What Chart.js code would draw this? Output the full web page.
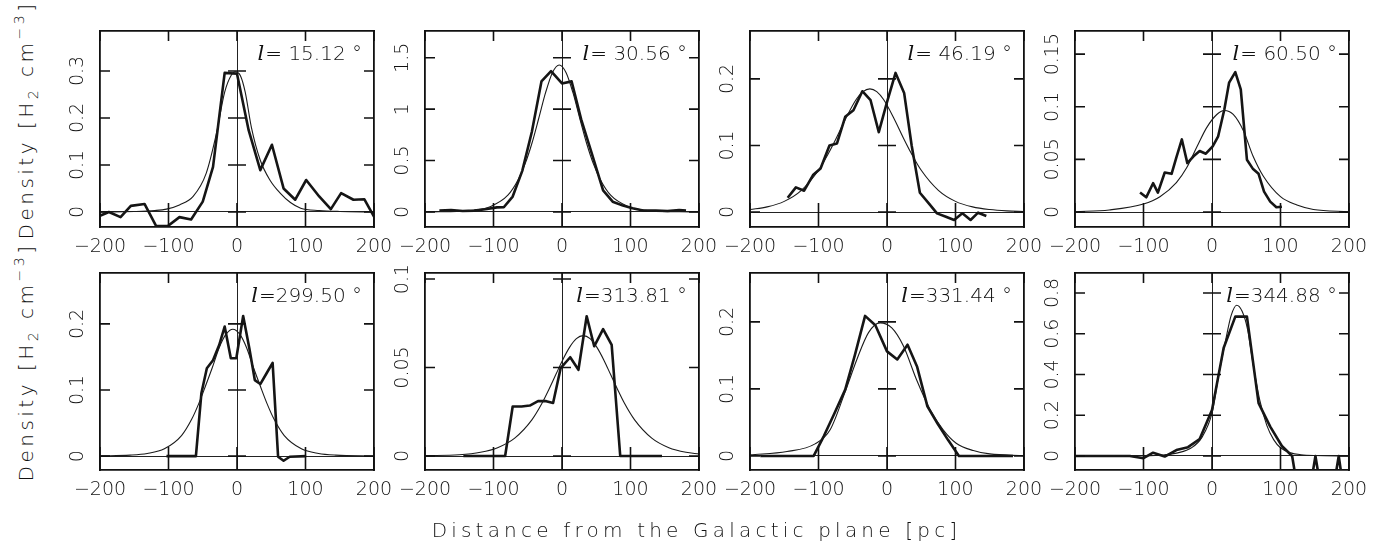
<!DOCTYPE html>
<html>
<head>
<meta charset="utf-8">
<script src="https://cdn.jsdelivr.net/npm/chart.js@4.4.0/dist/chart.umd.min.js"></script>
<style>
  html, body { margin: 0; padding: 0; background: #fff; }
  #wrap { position: relative; width: 1393px; height: 556px; overflow: hidden;
          font-family: 'DejaVu Sans', sans-serif; font-weight: 200; color: #111; }
  #wrap canvas { position: absolute; }
  .ytitle { position: absolute; width: 320px; height: 24px; line-height: 24px;
            font-size: 20px; letter-spacing: 3.5px; text-align: center; white-space: nowrap;
            transform: translate(-50%, -50%) rotate(-90deg); }
  .xtitle { position: absolute; left: 0; width: 1393px; height: 24px; line-height: 24px;
            font-size: 20px; letter-spacing: 4.2px; text-align: center; white-space: nowrap;
            will-change: transform; }
  .sub { font-size: 14px; position: relative; top: 5px; }
  .sup { font-size: 14px; position: relative; top: -9px; }
</style>
</head>
<body>
<div id="wrap">
  <div class="ytitle" style="left:26px; top:120px;">Density [H<span class="sub">2</span> cm<span class="sup">&minus;3</span>]</div>
  <div class="ytitle" style="left:26px; top:362px;">Density [H<span class="sub">2</span> cm<span class="sup">&minus;3</span>]</div>
  <div class="xtitle" style="top:518px;">Distance from the Galactic plane [pc]</div>
</div>
<script>
// galactic longitude of each panel
const longitudes = ['15.12', '30.56', '46.19', '60.50', '299.50', '313.81', '331.44', '344.88'];
const xTicks = [-200, -100, 0, 100, 200];

// y tick values per panel
const yTicks1 = [0, 0.1, 0.2, 0.3];
const yTicks2 = [0, 0.5, 1, 1.5];
const yTicks3 = [0, 0.1, 0.2];
const yTicks4 = [0, 0.05, 0.1, 0.15];
const yTicks5 = [0, 0.1, 0.2];
const yTicks6 = [0, 0.05, 0.1];
const yTicks7 = [0, 0.1, 0.2];
const yTicks8 = [0, 0.2, 0.4, 0.6, 0.8];

// y axis limits per panel
const yLimits = [[-0.032, 0.385], [-0.146, 1.76], [-0.0225, 0.272], [-0.0142, 0.172],
                 [-0.021, 0.277], [-0.0079, 0.1034], [-0.021, 0.273], [-0.069, 0.898]];

// observed profiles (thick) and fitted profiles (thin)
const obsX1 = [-200, -187, -170, -155, -135, -118, -101, -84, -67, -50, -35, -18, 0, 17, 34, 51, 68, 85, 101, 120, 137, 152, 170, 186, 200];
const obsY1 = [-0.008, 0.0, -0.011, 0.013, 0.017, -0.03, -0.03, -0.011, -0.016, 0.022, 0.096, 0.296, 0.294, 0.174, 0.089, 0.143, 0.05, 0.026, 0.068, 0.033, 0.006, 0.04, 0.026, 0.027, -0.01];
const fitX1 = [-200, -150, -120, -103, -84, -64, -45, -30, -18, -8, -3, 5, 12, 21, 34, 48, 63, 78, 93, 120, 150, 200];
const fitY1 = [0, 0.001, 0.003, 0.006, 0.015, 0.033, 0.082, 0.167, 0.255, 0.292, 0.298, 0.29, 0.255, 0.18, 0.11, 0.068, 0.04, 0.02, 0.008, 0.003, 0.001, 0];

const obsX2 = [-179, -162, -145, -128, -112, -95, -85, -72, -58, -44, -30, -16, 0, 14, 28, 43, 60, 74, 89, 103, 120, 137, 154, 171, 181];
const obsY2 = [0.013, 0.02, 0.01, 0.013, 0.026, 0.045, 0.046, 0.15, 0.40, 0.78, 1.27, 1.37, 1.25, 1.27, 0.9, 0.58, 0.21, 0.10, 0.062, 0.036, 0.013, 0.013, 0.01, 0.02, 0.013];
const fitX2 = [-200, -179, -154, -129, -104, -79, -64, -54, -44, -34, -24, -14, -4, 6, 16, 26, 36, 46, 56, 71, 96, 121, 146, 171, 200];
const fitY2 = [0.0006, 0.0016, 0.0053, 0.017, 0.054, 0.163, 0.313, 0.465, 0.666, 0.909, 1.16, 1.355, 1.43, 1.355, 1.16, 0.909, 0.666, 0.465, 0.313, 0.163, 0.054, 0.017, 0.0053, 0.0016, 0.0005];

const obsX3 = [-145, -133, -121, -108, -97, -84, -73, -61, -49, -36, -24, -12, 0, 12.5, 25, 36, 48, 61, 73, 86, 98, 110, 122, 133, 145];
const obsY3 = [0.0215, 0.037, 0.032, 0.0555, 0.0655, 0.1, 0.103, 0.143, 0.153, 0.1815, 0.168, 0.12, 0.165, 0.209, 0.179, 0.1, 0.029, 0.013, -0.002, -0.007, -0.012, -0.002, -0.012, -0.001, -0.006];
const fitX3 = [-200, -175, -150, -125, -100, -85, -75, -60, -45, -35, -25, -15, -5, 10, 25, 35, 50, 75, 100, 125, 150, 175, 200];
const fitY3 = [0.0037, 0.0077, 0.016, 0.0326, 0.0627, 0.089, 0.109, 0.141, 0.169, 0.181, 0.185, 0.181, 0.169, 0.141, 0.109, 0.089, 0.0627, 0.0326, 0.016, 0.0077, 0.0037, 0.0017, 0.0008];

const obsX4 = [-105, -96, -86, -79, -69, -59, -52, -44, -36, -27, -18, -9, 1, 9, 18, 25, 34, 42, 51, 60, 68, 76, 85, 94, 102];
const obsY4 = [0.0185, 0.014, 0.0274, 0.0185, 0.0376, 0.0363, 0.052, 0.069, 0.0465, 0.053, 0.058, 0.0554, 0.0624, 0.072, 0.0975, 0.123, 0.133, 0.1166, 0.0497, 0.0408, 0.0363, 0.0194, 0.0099, 0.0045, 0.005];
const fitX4 = [-200, -150, -100, -76, -52, -37, -22, -8, 7, 18, 31, 46, 60, 75, 100, 124, 148, 200];
const fitY4 = [0.0003, 0.002, 0.0076, 0.0146, 0.028, 0.042, 0.062, 0.08, 0.0927, 0.0965, 0.0927, 0.077, 0.053, 0.034, 0.0146, 0.0067, 0.0025, 0.0003];

const obsX5 = [-103, -60, -52, -44, -35, -26, -18, -9, -1, 9, 18, 26, 34, 43, 52, 60, 68, 77, 101];
const obsY5 = [0, 0, 0.095, 0.133, 0.145, 0.168, 0.196, 0.148, 0.148, 0.212, 0.163, 0.115, 0.109, 0.125, 0.141, -0.001, -0.007, -0.001, 0];
const fitX5 = [-200, -156, -131, -106, -81, -66, -56, -46, -36, -26, -16, -6, 4, 14, 24, 34, 44, 54, 69, 94, 119, 144, 200];
const fitY5 = [0.0003, 0.0015, 0.004, 0.011, 0.031, 0.056, 0.079, 0.106, 0.134, 0.164, 0.1845, 0.192, 0.1845, 0.164, 0.134, 0.106, 0.079, 0.056, 0.031, 0.011, 0.004, 0.0015, 0.0002];

const obsX6 = [-144, -83, -72, -59, -47, -35, -23, -13, -2, 12, 24, 36, 47, 60, 72.5, 85, 146];
const obsY6 = [0, 0, 0.028, 0.028, 0.0285, 0.031, 0.031, 0.03, 0.0496, 0.0558, 0.0487, 0.079, 0.062, 0.0717, 0.0628, 0, 0];
const fitX6 = [-200, -150, -119, -94, -69, -44, -29, -19, -9, 1, 11, 21, 31, 41, 51, 61, 71, 81, 91, 106, 131, 156, 181, 200];
const fitY6 = [0.0002, 0.0007, 0.0021, 0.0047, 0.0101, 0.0204, 0.0299, 0.0377, 0.046, 0.0543, 0.0614, 0.0663, 0.068, 0.0663, 0.0614, 0.0543, 0.046, 0.0377, 0.0299, 0.0204, 0.0101, 0.0047, 0.0021, 0.0012];

const obsX7 = [-185, -107, -92, -77, -61, -47, -32, -17, 0, 15, 30, 44, 59, 74, 89, 105, 184];
const obsY7 = [0, 0, 0.03, 0.063, 0.099, 0.15, 0.209, 0.195, 0.156, 0.144, 0.166, 0.133, 0.074, 0.048, 0.024, 0, 0];
const fitX7 = [-200, -146, -105, -83, -61, -44, -27, -10, 7, 24, 43, 63, 82, 101, 126, 150, 200];
const fitY7 = [0.0015, 0.0065, 0.018, 0.039, 0.096, 0.144, 0.184, 0.1985, 0.191, 0.164, 0.114, 0.069, 0.039, 0.019, 0.008, 0.003, 0.0005];

const obsX8 = [-200, -120, -100, -86, -69, -52, -35, -18, 0, 17, 34, 51, 68, 85, 102, 117, 134, 151, 168, 185, 200];
const obsY8 = [0, 0, -0.011, 0.016, -0.003, 0.029, 0.043, 0.083, 0.226, 0.53, 0.684, 0.684, 0.259, 0.144, 0.049, 0, -0.35, 0, -0.35, 0, -0.35];
const fitX8 = [-200, -100, -70, -50, -30, -15, 0, 10, 20, 28, 36, 44, 52, 60, 70, 80, 90, 100, 115, 130, 150, 200];
const fitY8 = [0, 0.001, 0.005, 0.015, 0.04, 0.09, 0.21, 0.40, 0.57, 0.69, 0.74, 0.71, 0.62, 0.45, 0.27, 0.15, 0.08, 0.04, 0.015, 0.006, 0.002, 0];

const panels = [
  { obsX: obsX1, obsY: obsY1, fitX: fitX1, fitY: fitY1, yTicks: yTicks1 },
  { obsX: obsX2, obsY: obsY2, fitX: fitX2, fitY: fitY2, yTicks: yTicks2 },
  { obsX: obsX3, obsY: obsY3, fitX: fitX3, fitY: fitY3, yTicks: yTicks3 },
  { obsX: obsX4, obsY: obsY4, fitX: fitX4, fitY: fitY4, yTicks: yTicks4 },
  { obsX: obsX5, obsY: obsY5, fitX: fitX5, fitY: fitY5, yTicks: yTicks5 },
  { obsX: obsX6, obsY: obsY6, fitX: fitX6, fitY: fitY6, yTicks: yTicks6 },
  { obsX: obsX7, obsY: obsY7, fitX: fitX7, fitY: fitY7, yTicks: yTicks7 },
  { obsX: obsX8, obsY: obsY8, fitX: fitX8, fitY: fitY8, yTicks: yTicks8 }
];

// layout of the plot boxes
const colLeft = [100, 425, 750, 1075];
const rowTop = [31, 273];
const boxW = 274;
const boxH = [196, 197];
const padL = 60, padR = 36, padT = 12, padB = 40;

const tickFont = "'DejaVu Sans', sans-serif";
const measure = document.createElement('canvas').getContext('2d');
measure.font = "200 19px " + tickFont;

Chart.defaults.font.family = tickFont;
Chart.defaults.font.size = 19;
Chart.defaults.font.weight = 200;
Chart.defaults.color = '#111';

// force axis sizes so every chart area sits exactly on its box
function fixed(w, h) {
  return s => {
    if (w !== null) s.width = w;
    if (h !== null) s.height = h;
    s.paddingLeft = s.paddingRight = s.paddingTop = s.paddingBottom = 0;
  };
}
function setTicks(values) {
  return s => { s.ticks = values.map(v => ({ value: v })); };
}
function fmtX(v) { return v < 0 ? '\u2212' + (-v) : String(v); }
function toPoints(xs, ys) { return xs.map((x, i) => ({ x: x, y: ys[i] })); }

const frameBorder = { display: true, color: '#111', width: 1.8 };

// inward tick marks on the frame and across the zero lines
const boxTicks = {
  id: 'boxTicks',
  afterDraw(chart) {
    const { ctx, chartArea: a } = chart;
    const sx = chart.scales.x, sy = chart.scales.y;
    const x0 = sx.getPixelForValue(0), y0 = sy.getPixelForValue(0);
    ctx.save();
    ctx.strokeStyle = '#111';
    ctx.lineWidth = 1.6;
    ctx.beginPath();
    sx.ticks.forEach(t => {
      const px = sx.getPixelForValue(t.value);
      ctx.moveTo(px, a.bottom); ctx.lineTo(px, a.bottom - 10);
      ctx.moveTo(px, a.top); ctx.lineTo(px, a.top + 10);
      ctx.moveTo(px, y0 - 9); ctx.lineTo(px, y0 + 9);
    });
    sy.ticks.forEach(t => {
      const py = sy.getPixelForValue(t.value);
      ctx.moveTo(a.left, py); ctx.lineTo(a.left + 10, py);
      ctx.moveTo(a.right, py); ctx.lineTo(a.right - 10, py);
      ctx.moveTo(x0 - 9, py); ctx.lineTo(x0 + 9, py);
    });
    ctx.stroke();
    ctx.restore();
  }
};

// text "l= 15.12 °" in the top right corner
const lonLabel = {
  id: 'lonLabel',
  afterDraw(chart, args, opts) {
    const { ctx, chartArea } = chart;
    const rest = opts.text;
    ctx.save();
    ctx.fillStyle = '#111';
    ctx.textBaseline = 'middle';
    ctx.textAlign = 'right';
    ctx.font = "200 20px " + tickFont;
    const wRest = ctx.measureText(rest).width;
    const xEnd = chartArea.right - 12;
    const y = chartArea.top + 24;
    ctx.fillText(rest, xEnd, y);
    ctx.font = "italic 21px 'DejaVu Serif', serif";
    ctx.fillText('l', xEnd - wRest - 1, y);
    ctx.restore();
  }
};

const wrap = document.getElementById('wrap');

panels.forEach((p, i) => {
  const row = Math.floor(i / 4), col = i % 4;
  const H = boxH[row];
  const cw = padL + boxW + padR, ch = padT + H + padB;
  const canvas = document.createElement('canvas');
  canvas.width = cw; canvas.height = ch;
  canvas.style.left = (colLeft[col] - padL) + 'px';
  canvas.style.top = (rowTop[row] - padT) + 'px';
  canvas.style.width = cw + 'px';
  canvas.style.height = ch + 'px';
  wrap.appendChild(canvas);

  const [ymin, ymax] = yLimits[i];
  const widest = Math.max(...p.yTicks.map(v => measure.measureText(String(v)).width));
  const yPad = 22 - widest / 2;
  const zeroGrid = {
    drawOnChartArea: true, drawTicks: false, lineWidth: 1,
    color: c => (c.tick && c.tick.value === 0 ? '#222' : 'rgba(0,0,0,0)')
  };

  new Chart(canvas, {
    type: 'line',
    data: {
      datasets: [
        { data: toPoints(p.fitX, p.fitY), borderColor: '#1a1a1a', borderWidth: 1.1,
          pointRadius: 0, cubicInterpolationMode: 'monotone', fill: false,
          xAxisID: 'x', yAxisID: 'y' },
        { data: toPoints(p.obsX, p.obsY), borderColor: '#151515', borderWidth: 2.6,
          pointRadius: 0, tension: 0, fill: false, borderJoinStyle: 'round',
          xAxisID: 'x', yAxisID: 'y' }
      ]
    },
    options: {
      responsive: false,
      animation: false,
      devicePixelRatio: 1,
      events: [],
      layout: { padding: 0, autoPadding: false },
      plugins: {
        legend: { display: false },
        tooltip: { enabled: false },
        lonLabel: { text: '=' + longitudes[i].padStart(6, ' ') + ' \u00b0' }
      },
      scales: {
        x: {
          type: 'linear', axis: 'x', position: 'bottom', min: -200, max: 200, bounds: 'data',
          afterBuildTicks: setTicks(xTicks), afterFit: fixed(null, padB),
          ticks: { autoSkip: false, maxRotation: 0, padding: 9, callback: fmtX },
          grid: zeroGrid, border: frameBorder
        },
        xTop: {
          type: 'linear', axis: 'x', position: 'top', min: -200, max: 200, bounds: 'data',
          afterBuildTicks: setTicks(xTicks), afterFit: fixed(null, padT),
          ticks: { display: false }, grid: { drawOnChartArea: false, drawTicks: false }, border: frameBorder
        },
        y: {
          type: 'linear', axis: 'y', position: 'left', min: ymin, max: ymax, bounds: 'data',
          afterBuildTicks: setTicks(p.yTicks), afterFit: fixed(padL, null),
          ticks: { autoSkip: false, minRotation: 90, maxRotation: 90, crossAlign: 'center',
                   padding: yPad, callback: v => String(v) },
          grid: zeroGrid, border: frameBorder
        },
        yRight: {
          type: 'linear', axis: 'y', position: 'right', min: ymin, max: ymax, bounds: 'data',
          afterBuildTicks: setTicks(p.yTicks), afterFit: fixed(padR, null),
          ticks: { display: false }, grid: { drawOnChartArea: false, drawTicks: false }, border: frameBorder
        }
      }
    },
    plugins: [boxTicks, lonLabel]
  });
});
</script>
</body>
</html>
